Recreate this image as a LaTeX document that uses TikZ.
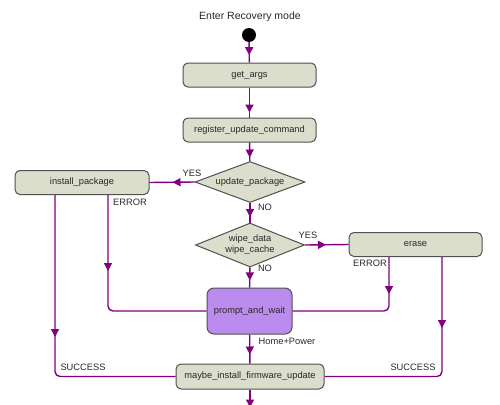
\documentclass[tikz,border=0pt]{standalone}
\usepackage{fontspec}
\setmainfont{Liberation Sans}
\usetikzlibrary{shapes.geometric,decorations.markings,arrows.meta}
\definecolor{flow}{RGB}{128,0,128}
\definecolor{boxfill}{RGB}{220,222,205}
\definecolor{waitfill}{RGB}{187,140,238}
\definecolor{edgegray}{RGB}{80,80,80}
\definecolor{txt}{RGB}{40,40,40}
\begin{document}
\begin{tikzpicture}[x=1pt,y=-1pt, font=\fontsize{9.3}{11}\selectfont,
  state/.style={draw=edgegray, line width=1pt, fill=boxfill, rounded corners=5pt, minimum width=133pt, minimum height=24pt, inner sep=0pt, text=txt},
  choice/.style={diamond, draw=edgegray, line width=1pt, fill=boxfill, inner sep=0pt, text=txt, align=center},
  flowline/.style={draw=flow, line width=1.4pt},
  tipat/.style={postaction={decorate}, decoration={markings, mark=at position #1 with {\arrow[flow]{Triangle[length=8pt,width=8pt]}}}},
  lbl/.style={text=txt, inner sep=0pt}]
\path[use as bounding box, clip] (0,0) rectangle (500,404);
\node[lbl, font=\fontsize{10.5}{12}\selectfont] (title) at (250,17) {Enter Recovery mode};
\node[circle, fill=black, minimum size=14pt, inner sep=0pt] (start) at (249,35) {};
\node[state] (getargs) at (249.5,75) {get\_args};
\node[state] (register) at (249.5,130) {register\_update\_command};
\node[choice, shape aspect=2.7, minimum width=110pt, minimum height=41pt] (update) at (250,182) {update\_package};
\node[choice, shape aspect=2.5, minimum width=109pt, minimum height=44pt] (wipe) at (250,245) {wipe\_data\\wipe\_cache};
\node[state, minimum width=134pt] (install) at (82,182.5) {install\_package};
\node[state] (erase) at (415.5,244.5) {erase};
\node[state, fill=waitfill, minimum width=85pt, minimum height=46pt, rounded corners=7pt] (prompt) at (249.5,311) {prompt\_and\_wait};
\node[state, minimum width=148pt, minimum height=25pt] (maybe) at (250,376.5) {maybe\_install\_firmware\_update};
\coordinate (out) at (250,412);

\draw[flowline, tipat=13pt] (start) -- (getargs);
\draw[flowline, tipat=25pt] (getargs) -- (register);
\draw[flowline, tipat=15pt] (register) -- (update);
\draw[flowline, tipat=22pt] (update.west) -- (install.east);
\draw[flowline, tipat=14pt] (update) -- (wipe);
\draw[flowline, tipat=21pt] (wipe.east) -- (erase.west);
\draw[flowline, tipat=13pt] (wipe) -- (prompt);
\draw[flowline, tipat=20pt] (prompt) -- (maybe);
\draw[flowline, tipat=18pt] (maybe) -- (out);
\draw[flowline, rounded corners=5pt, tipat=76pt] ([xshift=26pt]install.south) |- (prompt.west);
\draw[flowline, rounded corners=5pt, tipat=142pt] ([xshift=-27pt]install.south) |- (maybe.west);
\draw[flowline, rounded corners=5pt, tipat=37pt] ([xshift=-26.5pt]erase.south) |- (prompt.east);
\draw[flowline, rounded corners=5pt, tipat=71pt] ([xshift=26.5pt]erase.south) |- (maybe.east);

\node[lbl] (yes1) at (192,173) {YES};
\node[lbl] (no1) at (265,207) {NO};
\node[lbl] (yes2) at (308,235) {YES};
\node[lbl] (no2) at (265,268) {NO};
\node[lbl] (err1) at (130,202) {ERROR};
\node[lbl] (err2) at (370,263) {ERROR};
\node[lbl] (hp) at (287,341) {Home+Power};
\node[lbl] (succ1) at (83,367) {SUCCESS};
\node[lbl] (succ2) at (413,367) {SUCCESS};
\end{tikzpicture}
\end{document}
